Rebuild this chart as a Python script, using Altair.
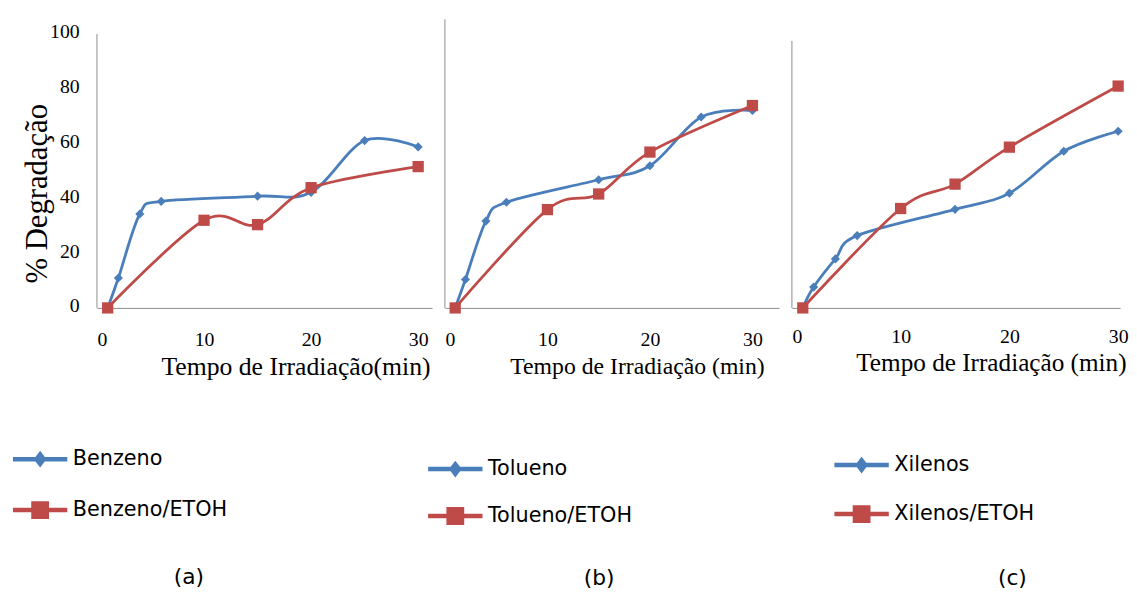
import altair as alt
import pandas as pd

# ---------------- data ----------------
times_main = [1, 2, 4, 6, 15, 20, 25, 30]
times_etoh = [1, 10, 15, 20, 30]

benzeno = [0, 10.9, 34.3, 38.9, 40.8, 42.2, 61.1, 58.8]
benzeno_etoh = [0, 32.0, 30.4, 43.9, 51.6]
tolueno = [0, 10.4, 31.7, 38.6, 46.8, 51.9, 69.7, 72.1]
tolueno_etoh = [0, 35.9, 41.6, 56.9, 73.9]
xilenos = [0, 7.6, 17.9, 26.4, 36.0, 41.9, 57.2, 64.5]
xilenos_etoh = [0, 36.3, 45.2, 58.7, 81.0]

series_names = [["Benzeno", "Benzeno/ETOH"],
                ["Tolueno", "Tolueno/ETOH"],
                ["Xilenos", "Xilenos/ETOH"]]
series_values = [[benzeno, benzeno_etoh],
                 [tolueno, tolueno_etoh],
                 [xilenos, xilenos_etoh]]
captions = ["(a)", "(b)", "(c)"]
x_titles = ["Tempo de Irradiação(min)",
            "Tempo de Irradiação (min)",
            "Tempo de Irradiação (min)"]
y_title = "% Degradação"
x_ticks = [0, 10, 20, 30]
y_ticks = [0, 20, 40, 60, 80, 100]
axis_tops = [100, 105.4, 97.5]

# ---------------- style / layout ----------------
BLUE = "#4A7EBB"
RED = "#BE4B48"
AXIS = "#8C8C8C"
SERIF = "Liberation Serif"
SANS = "DejaVu Sans"

panel_w = [339, 338, 332]
x_max = [31.3, 32.6, 30.18]
H = 292
Y_MAX = 105.4
x_label_pad = [22, 22, 19]
x_title_x = [337, 323, 338]
x_title_size = [26, 24, 25.5]
x_title_y = [46, 47, 43]
legend_x = [-82.5, -14.5, 45.5]
legend_y = [420, 430, 426]
legend_row_pad = [16.5, 12.5, 14.5]
caption_dx = [-76.5, -13, 57]
caption_offset = [57.5, 52.5, 54.5]

SYM = 50
LEG_DIAMOND = ("M-1.1,-0.09L1.1,-0.09L1.1,0.09L-1.1,0.09Z "
               "M0,-0.34L0.26,0L0,0.34L-0.26,0Z")
LEG_SQUARE = ("M-1.1,-0.09L1.1,-0.09L1.1,0.09L-1.1,0.09Z "
              "M-0.36,-0.36L0.36,-0.36L0.36,0.36L-0.36,0.36Z")


def make_panel(i):
    names = series_names[i]
    vals = series_values[i]
    df = pd.concat([
        pd.DataFrame({"t": times_main, "v": vals[0], "series": names[0]}),
        pd.DataFrame({"t": times_etoh, "v": vals[1], "series": names[1]}),
    ], ignore_index=True)
    axis_df = pd.DataFrame({"y0": [0], "y1": [axis_tops[i]]})

    xscale = alt.Scale(domain=[0, x_max[i]], nice=False, zero=False)
    yscale = alt.Scale(domain=[0, Y_MAX], nice=False)

    xaxis = alt.Axis(values=x_ticks, grid=False, ticks=False, tickSize=0,
                     domainColor=AXIS, domainWidth=1,
                     labelFont=SERIF, labelFontSize=20, labelColor="black",
                     labelPadding=x_label_pad[i], labelAngle=0,
                     title=x_titles[i], titleFont=SERIF,
                     titleFontSize=x_title_size[i], titleFontWeight="normal",
                     titleColor="black", titleAlign="right",
                     titleBaseline="top", titleX=x_title_x[i], titleY=x_title_y[i])
    if i == 0:
        yaxis = alt.Axis(values=y_ticks, grid=False, ticks=False, tickSize=0,
                         domain=False, labelFont=SERIF, labelFontSize=20,
                         labelColor="black", labelPadding=18, labelOffset=-2,
                         title=y_title, titleFont=SERIF, titleFontSize=31,
                         titleFontWeight="normal", titleColor="black",
                         titleAngle=270, titleAlign="center",
                         titleBaseline="middle", titleX=-60, titleY=176)
    else:
        yaxis = None

    leg = alt.Legend(title=None, orient="none", legendX=legend_x[i],
                     legendY=legend_y[i], direction="vertical",
                     labelFont=SANS, labelFontSize=21, labelColor="black",
                     labelOffset=8, labelLimit=400,
                     symbolSize=SYM * SYM, symbolStrokeWidth=0,
                     symbolOpacity=1, rowPadding=legend_row_pad[i], padding=0)

    cscale = alt.Scale(domain=names, range=[BLUE, RED])
    sscale = alt.Scale(domain=names, range=[LEG_DIAMOND, LEG_SQUARE])
    color = alt.Color("series:N", scale=cscale, legend=leg)

    base = alt.Chart(df).encode(
        x=alt.X("t:Q", scale=xscale, axis=xaxis),
        y=alt.Y("v:Q", scale=yscale, axis=yaxis),
    )

    rule = alt.Chart(axis_df).mark_rule(color=AXIS, strokeWidth=1).encode(
        x=alt.value(0),
        y=alt.Y("y0:Q", scale=yscale, axis=yaxis),
        y2="y1:Q",
    )
    lines = base.mark_line(interpolate="cardinal", tension=0,
                           strokeWidth=2.8).encode(color=color)
    diamonds = base.transform_filter(alt.datum.series == names[0]).mark_point(
        shape="diamond", filled=True, size=85, opacity=1, strokeWidth=0
    ).encode(color=color)
    squares = base.transform_filter(alt.datum.series == names[1]).mark_point(
        shape="square", filled=True, size=130, opacity=1, strokeWidth=0
    ).encode(color=color)
    legend_layer = base.mark_point(filled=True, opacity=0).encode(
        color=color,
        shape=alt.Shape("series:N", scale=sscale, legend=leg),
    )

    return alt.layer(rule, lines, diamonds, squares, legend_layer).properties(
        width=panel_w[i], height=H,
        title=alt.TitleParams(text=captions[i], orient="bottom", frame="group",
                              anchor="middle", offset=caption_offset[i],
                              dx=caption_dx[i],
                              baseline="middle", font=SANS, fontSize=22,
                              fontWeight="normal", color="black"),
    )


chart = alt.hconcat(*[make_panel(i) for i in range(3)], spacing=13,
                    bounds="flush").resolve_scale(
    color="independent", shape="independent"
).properties(
    padding={"left": 7, "top": 7, "right": 0, "bottom": 0},
    background="white",
).configure_view(stroke=None)

chart.save("out.html", embed_options={"renderer": "svg", "actions": False})
